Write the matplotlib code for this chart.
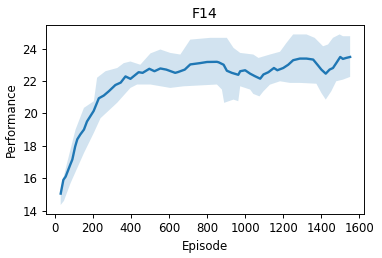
import numpy as np
import matplotlib
matplotlib.use("Agg")
import matplotlib.pyplot as plt

# mean curve
episode = [32, 46, 58, 81, 93, 108, 119, 135, 154, 170, 205, 232, 258, 284,
           319, 347, 372, 398, 441, 462, 497, 524, 555, 586, 633, 648, 683,
           712, 763, 800, 852, 861, 887, 904, 930, 964, 974, 1000, 1026, 1052,
           1079, 1096, 1122, 1151, 1169, 1200, 1226, 1252, 1287, 1322, 1357,
           1383, 1400, 1423, 1443, 1461, 1478, 1499, 1513, 1530, 1551]
perf = [15.05, 15.9, 16.1, 16.8, 17.15, 17.96, 18.4, 18.7, 19.0, 19.5, 20.15,
        20.93, 21.1, 21.36, 21.75, 21.9, 22.28, 22.13, 22.54, 22.5, 22.75,
        22.6, 22.77, 22.7, 22.5, 22.55, 22.7, 23.02, 23.1, 23.17, 23.18,
        23.15, 23.0, 22.63, 22.5, 22.38, 22.6, 22.66, 22.45, 22.29, 22.14,
        22.4, 22.54, 22.8, 22.66, 22.8, 23.0, 23.28, 23.38, 23.38, 23.32,
        22.95, 22.7, 22.45, 22.7, 22.8, 23.1, 23.48, 23.36, 23.42, 23.48]

# shaded band edges
upper_x = [32, 40, 66, 110, 154, 206, 223, 267, 329, 363, 398, 450, 503,
           555, 607, 660, 712, 817, 904, 939, 974, 1043, 1070, 1130, 1183,
           1217, 1252, 1322, 1365, 1409, 1435, 1461, 1496, 1513, 1551]
upper_y = [15.3, 15.7, 16.96, 19.0, 20.34, 20.75, 22.2, 22.6, 22.8, 23.1,
           23.2, 23.0, 23.7, 23.94, 23.73, 23.63, 24.55, 24.66, 24.66, 24.04,
           23.73, 23.63, 23.42, 23.63, 23.8, 24.35, 24.87, 24.87, 24.66,
           24.14, 24.25, 24.66, 24.87, 24.76, 24.76]
lower_x = [32, 49, 84, 154, 206, 241, 328, 398, 433, 503, 607, 677, 852,
           878, 890, 939, 964, 974, 1026, 1043, 1075, 1096, 1130, 1183, 1235,
           1287, 1374, 1400, 1423, 1452, 1478, 1513, 1551]
lower_y = [14.35, 14.6, 15.7, 17.55, 18.8, 19.7, 20.65, 21.57, 21.78, 21.78,
           21.57, 21.67, 21.78, 21.47, 20.65, 20.85, 20.75, 21.67, 21.47,
           21.2, 21.05, 21.36, 21.77, 21.98, 21.88, 21.88, 21.83, 21.26,
           20.85, 21.36, 21.98, 22.08, 22.25]

fig = plt.figure(figsize=(382 / 85, 258 / 85), dpi=85)
ax = fig.add_axes([0.12, 0.171, 0.833, 0.732])

band_x = np.r_[upper_x, lower_x[::-1]]
band_y = np.r_[upper_y, lower_y[::-1]]
ax.fill(band_x, band_y, color="C0", alpha=0.2, linewidth=0)
ax.plot(episode, perf, color="C0", linewidth=2)

ax.set_xlim(-46, 1624)
ax.set_ylim(13.8, 25.45)
ax.set_xticks(range(0, 1601, 200))
ax.set_yticks(range(14, 25, 2))
ax.set_title("F14")
ax.set_xlabel("Episode")
ax.set_ylabel("Performance")

fig.savefig("out.png", dpi=85)
